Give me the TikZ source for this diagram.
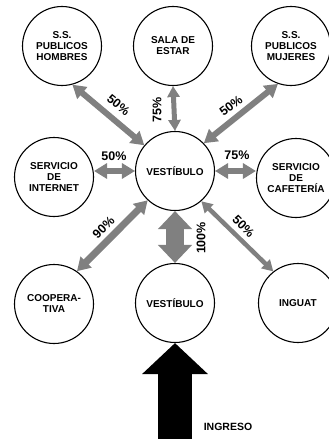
\documentclass[tikz,border=0pt]{standalone}
\usepackage{fontspec}
\setmainfont{Liberation Sans}
\usetikzlibrary{arrows.meta}
\definecolor{arrgray}{HTML}{808080}
\begin{document}
\begin{tikzpicture}[x=1pt,y=-1pt,
  room/.style={circle,draw=black,line width=1.1pt,minimum size=79pt,inner sep=0pt,align=center,
    font=\fontsize{10}{11}\selectfont\bfseries},
  pct/.style={font=\fontsize{12.5}{13}\selectfont\bfseries,inner sep=0pt},
  flow/.style={draw=arrgray,line width=#1},
  tipA/.style={{Triangle[width=15pt,length=13pt]}-{Triangle[width=15pt,length=13pt]}},
  tipB/.style={{Triangle[width=12pt,length=11pt]}-{Triangle[width=12pt,length=11pt]}},
  tipC/.style={{Triangle[width=33pt,length=18pt]}-{Triangle[width=33pt,length=18pt]}}
]
\useasboundingbox (0,0) rectangle (329,439);
\node[room] (tl) at (62,46) {S.S.\\PUBLICOS\\HOMBRES};
\node[room] (tm) at (173,46) {SALA DE\\ESTAR};
\node[room] (tr) at (291,46) {S.S.\\PUBLICOS\\MUJERES};
\node[room] (ml) at (54,177) {SERVICIO\\DE\\INTERNET};
\node[room] (c) at (175,171) {VESTÍBULO};
\node[room] (mr) at (296,178) {SERVICIO\\DE\\CAFETERÍA};
\node[room] (bl) at (54,304) {COOPERA-\\TIVA};
\node[room] (bm) at (175,303) {VESTÍBULO};
\node[room] (br) at (298,303) {INGUAT};

\draw[flow=6pt,tipA] (tl.-75) -- (c.140);
\draw[flow=5pt,tipB] (tm.south) -- (c.north);
\draw[flow=6pt,tipA] (tr.-109) -- (c.44);
\draw[flow=6.5pt,tipA] (c.west) -- (c.west -| ml.east);
\draw[flow=6.5pt,tipA] (c.east) -- (c.east -| mr.west);
\draw[flow=7pt,tipA] (c.-133) -- (bl.55);
\draw[flow=18pt,tipC] (c.south) -- (bm.north);
\draw[flow=4.5pt,tipB] (c.-49) -- (br.128);

\coordinate (inbase) at (175,445);
\draw[black,line width=34pt,-{Triangle[width=64pt,length=31pt]}] (inbase) -- (bm.south);

\node[pct,rotate=-39] (p1) at (118.5,105) {50\%};
\node[pct,rotate=90] (p2) at (157,110) {75\%};
\node[pct,rotate=37] (p3) at (231,105.5) {50\%};
\node[pct] (p4) at (114,156) {50\%};
\node[pct] (p5) at (237,155) {75\%};
\node[pct,rotate=45] (p6) at (103.5,227.5) {90\%};
\node[pct,rotate=90] (p7) at (201,238) {100\%};
\node[pct,rotate=-45] (p8) at (243.5,226.5) {50\%};
\node[font=\fontsize{10.5}{12}\selectfont\bfseries,inner sep=0pt] (ing) at (228,427) {INGRESO};
\end{tikzpicture}
\end{document}
